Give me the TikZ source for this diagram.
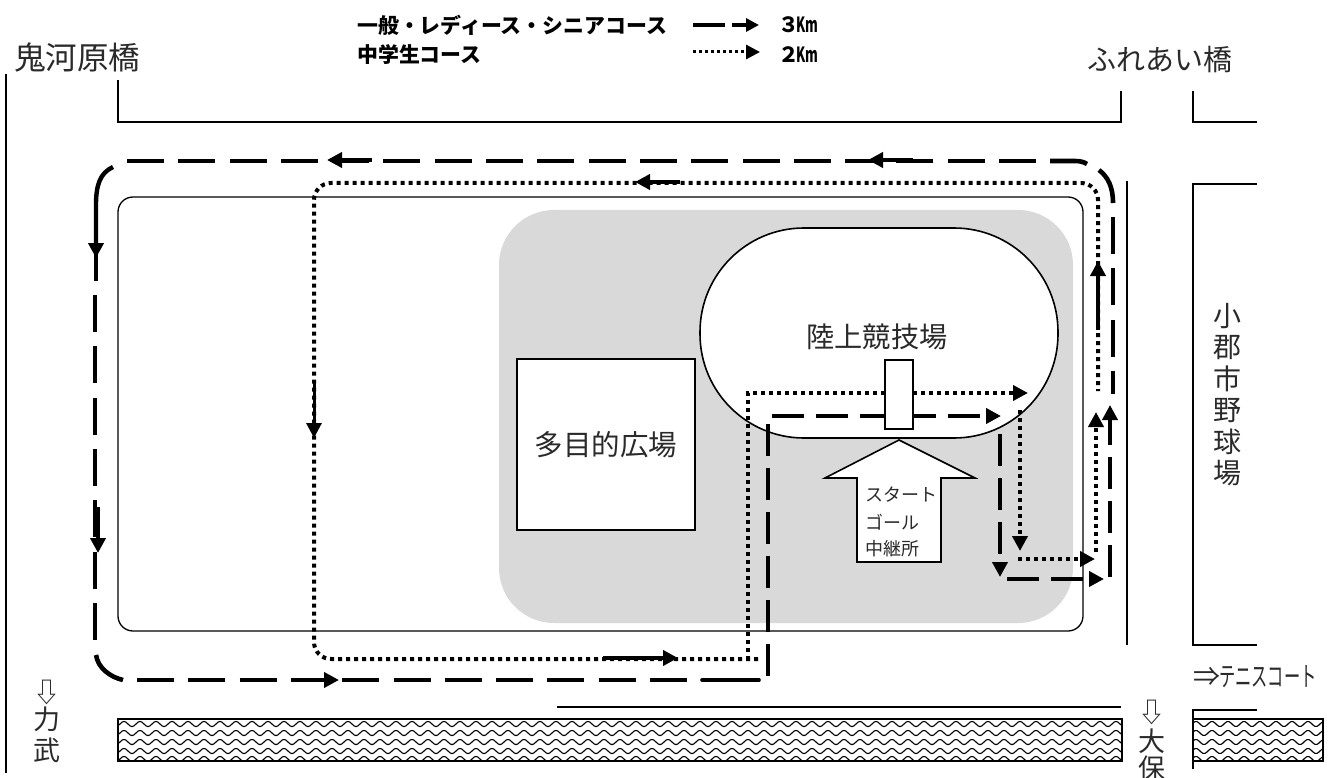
\documentclass[tikz,border=0pt]{standalone}
\usepackage{fontspec}
\setmainfont{Noto Sans CJK JP}
\usetikzlibrary{arrows.meta}
\definecolor{parkgray}{HTML}{D9D9D9}
\definecolor{inkc}{HTML}{2A2A2A}
\tikzset{
  roadline/.style={draw=black,line width=1.3pt},
  dashcourse/.style={draw=black,line width=4.6pt,dash pattern=on 37pt off 14.3pt},
  innerdash/.style={draw=black,line width=4.3pt,dash pattern=on 32pt off 12pt},
  solidcourse/.style={draw=black,line width=4.6pt},
  dotcourse/.style={draw=black,line width=4pt,dash pattern=on 4pt off 4pt},
  tipdash/.style={-{Triangle[length=15pt,width=15pt]}},
  soliddir/.style={draw=black,line width=4.4pt,-{Triangle[length=15pt,width=15pt]}},
  lab/.style={inner sep=0pt,text=inkc},
  legendtxt/.style={inner sep=0pt,anchor=west,font=\bfseries\fontsize{20.9pt}{22pt}\selectfont},
  vtxt/.style={lab,font=\fontsize{27pt}{28pt}\selectfont},
  river/.style={draw=black,line width=2pt},
}
\begin{document}
\begin{tikzpicture}[x=1pt,y=-1pt]
\useasboundingbox (0,0) rectangle (1338,778);
\fill[white] (0,0) rectangle (1338,778);
% legend
\node[legendtxt] (leg1) at (357,25) {一般・レディース・シニアコース};
\node[legendtxt] (leg2) at (357,55) {中学生コース};
\node[legendtxt] (km3) at (778,25) {３\hspace{-3pt}\scalebox{.62}[1]{Km}};
\node[legendtxt] (km2) at (778,55) {２\hspace{-3pt}\scalebox{.62}[1]{Km}};
\coordinate (la1) at (693,25); \coordinate (la2) at (725,25);
\coordinate (la3) at (732,25); \coordinate (la4) at (759,25);
\coordinate (lb1) at (693,52); \coordinate (lb2) at (760,52);
\draw[line width=3.2pt] (la1)--(la2);
\draw[line width=3.2pt,-{Triangle[length=13pt,width=13pt]}] (la3)--(la4);
\draw[line width=3pt,dash pattern=on 3pt off 3pt,-{Triangle[length=14pt,width=14pt]}] (lb1)--(lb2);
% top labels
\node[lab,font=\fontsize{31.5pt}{32pt}\selectfont,anchor=west] (oni) at (14,58) {鬼河原橋};
\node[lab,font=\fontsize{29pt}{30pt}\selectfont,anchor=west] (fure) at (1087,59) {ふれあい橋};
% roads
\draw[roadline] (6,74)--(6,773);
\draw[roadline] (118,80)--(118,122)--(1121,122)--(1121,91);
\draw[roadline] (1193,91)--(1193,122)--(1257,122);
\draw[roadline] (1257,184)--(1193,184)--(1193,645)--(1257,645);
\draw[roadline] (1127,181)--(1127,645);
\draw[roadline] (557,707)--(1121,707);
\draw[roadline] (1257,710)--(1193,710)--(1193,769);
% park
\draw[roadline,rounded corners=15pt] (118,197) rectangle (1083,631);
\fill[parkgray,rounded corners=55pt] (499,210) rectangle (1073,623);
\node[draw=black,fill=white,line width=1.4pt,minimum width=178pt,minimum height=171pt,inner sep=0pt,
  font=\fontsize{28.5pt}{30pt}\selectfont,text=inkc] (plaza) at (606,444.5) {多目的広場};
\draw[black,fill=white,line width=1.6pt,rounded corners=104pt] (700,228) rectangle (1058,438);
\node[lab,font=\fontsize{28.2pt}{30pt}\selectfont] (stad) at (877,337) {陸上競技場};
% start arrow
\draw[black,fill=white,line width=1.6pt] (899,440)--(975,478)--(941,478)--(941,562)--(857,562)--(857,478)--(825,478)--cycle;
\node[lab,font=\fontsize{18pt}{19pt}\selectfont,anchor=west] (s1) at (865,495) {スタート};
\node[lab,font=\fontsize{18pt}{19pt}\selectfont,anchor=west] (s2) at (865,522) {ゴール};
\node[lab,font=\fontsize{18pt}{19pt}\selectfont,anchor=west] (s3) at (865,549) {中継所};
% dotted course
\draw[dotcourse,tipdash] (748,660)--(748,393)--(1028,393);
\draw[dotcourse,rounded corners=17pt] (758,659)--(314,659)--(314,183)--(1098,183)--(1098,391);
\draw[dotcourse,tipdash] (1020,410)--(1020,551);
\draw[dotcourse,tipdash] (1018,559)--(1095,559);
\draw[dotcourse,tipdash] (1096,552)--(1096,412);
% dashed course: inner legs
\draw[innerdash,tipdash] (772,416)--(1001,416);
\draw[innerdash] (768,424)--(768,676);
\draw[innerdash,tipdash] (1000,434)--(1000,577);
\draw[innerdash,tipdash] (1007,579)--(1104,579);
\draw[innerdash,tipdash] (1110,577)--(1110,405);
% dashed course: outer loop
\draw[dashcourse,dash phase=14pt] (1113,394)--(1113,217);
\draw[solidcourse] (1113,203) .. controls (1113,187) and (1108,177) .. (1099,170);
\draw[solidcourse] (1050,161)--(1075,161) .. controls (1080,161) and (1084,162) .. (1087,164);
\draw[dashcourse] (1036,161)--(126,161);
\draw[dashcourse] (95,295)--(95,640);
\draw[solidcourse] (96,281)--(96,250);
\draw[solidcourse] (96,655) .. controls (98,668) and (110,677) .. (123,680);
\draw[dashcourse] (137,680)--(701,680);
\draw[line width=3.6pt,line cap=round] (702,680)--(759,680);
% gate
\node[draw=black,fill=white,line width=1.6pt,minimum width=28pt,minimum height=69pt,inner sep=0pt] (gate) at (899,394.5) {};
% solid direction arrows
\coordinate (a1) at (372,160); \coordinate (a2) at (327,160);
\coordinate (a3) at (913,160); \coordinate (a4) at (868,160);
\coordinate (a5) at (680,182); \coordinate (a6) at (635,182);
\coordinate (a7) at (314,380); \coordinate (a8) at (314,438);
\coordinate (a9) at (603,658); \coordinate (a10) at (678,658);
\coordinate (a11) at (291,680); \coordinate (a12) at (339,680);
\coordinate (a13) at (98,507); \coordinate (a14) at (98,553);
\coordinate (a15) at (1098,330); \coordinate (a16) at (1098,261);
\draw[soliddir] (a1)--(a2);
\draw[soliddir] (a3)--(a4);
\draw[soliddir] (a5)--(a6);
\draw[soliddir,line width=3pt] (a7)--(a8);
\draw[soliddir] (a9)--(a10);
\draw[soliddir] (a11)--(a12);
\draw[soliddir] (a13)--(a14);
\draw[soliddir] (a15)--(a16);
\draw[soliddir] (113,167) .. controls (100,173) and (96,185) .. (96,205) -- (96,258);
% rivers
\begin{scope}
\clip (118,719) rectangle (1122,761);
\foreach \r in {724,733,742,751,759}{
  \draw[line width=1.1pt] plot[domain=118:1122,samples=503] (\x,{\r+2.6*sin(22.5*mod(\x,16))});
}
\end{scope}
\node[river,minimum width=1004pt,minimum height=42pt,inner sep=0pt] (riverA) at (620,740) {};
\begin{scope}
\clip (1193,719) rectangle (1323,761);
\foreach \r in {724,733,742,751,759}{
  \draw[line width=1.1pt] plot[domain=1193:1323,samples=66] (\x,{\r+2.6*sin(22.5*mod(\x,16))});
}
\end{scope}
\node[river,minimum width=130pt,minimum height=42pt,inner sep=0pt] (riverB) at (1258,740) {};
% place labels
\node[vtxt] (ar1) at (47,692) {⇩};
\node[vtxt] (ri) at (47,719) {力};
\node[vtxt] (take) at (47,750) {武};
\node[vtxt] (ar2) at (1152,712) {⇩};
\node[vtxt] (o) at (1152,741) {大};
\node[vtxt] (ho) at (1152,768) {保};
\node[lab,anchor=west,font=\fontsize{27pt}{28pt}\selectfont] (ten) at (1193,677) {⇒\hspace{-1pt}\scalebox{.6}[1]{テニスコート}};
\foreach \c [count=\i from 0] in {小,郡,市,野,球,場}{
  \node[lab,font=\fontsize{28pt}{30pt}\selectfont] (v\i) at (1227,{316+\i*31.5}) {\c};
}
\end{tikzpicture}
\end{document}
